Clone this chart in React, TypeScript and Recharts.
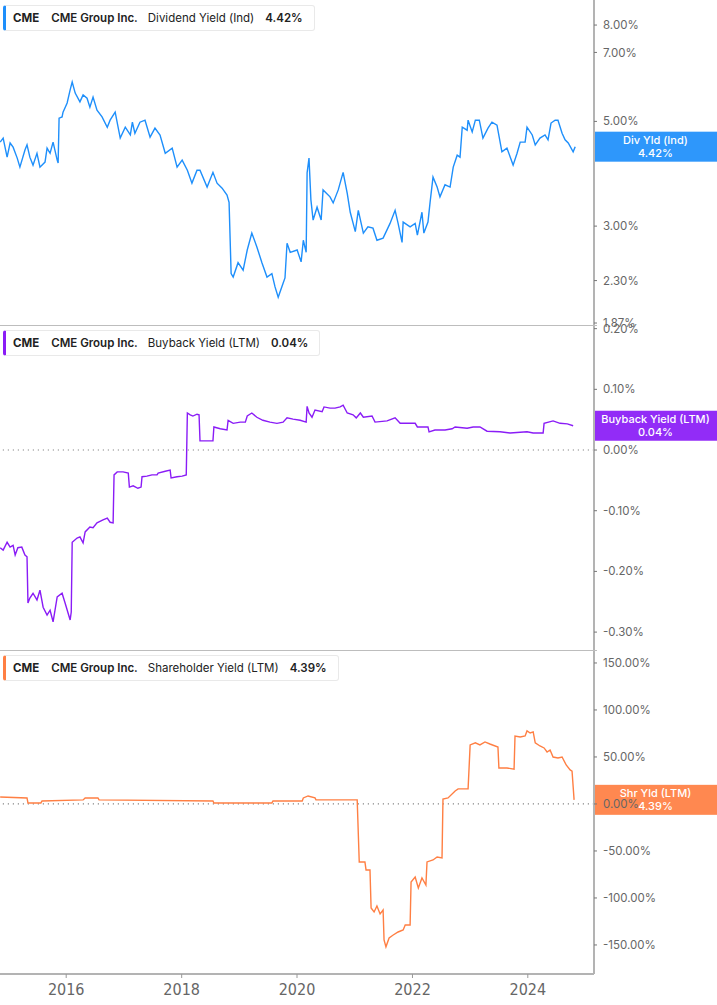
import React from 'react';
import { LineChart, Line, XAxis, YAxis, ReferenceLine } from 'recharts';

// ---------- layout constants ----------
const W = 717;
const PLOT_W = 594;
const AXIS_W = W - PLOT_W;

// ---------- x axis ----------
const xDomainDates = ['2014-11-08', '2025-02-23'];
const xTickDates = ['2016-01-01', '2018-01-01', '2020-01-01', '2022-01-01', '2024-01-01'];

// ---------- Dividend Yield (Ind), % ----------
const divDates = [
  '2014-11-09','2014-11-28','2014-12-23','2015-01-11','2015-01-30','2015-02-25','2015-03-14','2015-04-15','2015-04-28','2015-05-16',
  '2015-06-05','2015-06-30','2015-07-19','2015-08-20','2015-09-02','2015-09-21','2015-10-10','2015-11-05','2015-11-11','2015-11-17',
  '2015-12-06','2015-12-12','2016-01-07','2016-01-26','2016-02-08','2016-02-27','2016-03-28','2016-04-17','2016-05-12','2016-05-30',
  '2016-06-19','2016-07-14','2016-08-15','2016-09-17','2016-10-05','2016-11-06','2016-12-08','2017-01-09','2017-02-10','2017-02-23',
  '2017-03-11','2017-04-12','2017-05-14','2017-06-15','2017-07-16','2017-08-17','2017-09-19','2017-11-02','2017-12-03','2018-01-04',
  '2018-02-06','2018-03-07','2018-04-08','2018-04-27','2018-06-11','2018-07-18','2018-08-13','2018-09-14','2018-10-15','2018-10-28',
  '2018-11-10','2018-11-23','2018-12-24','2019-01-25','2019-02-20','2019-03-21','2019-04-22','2019-05-24','2019-06-25','2019-07-26',
  '2019-08-15','2019-09-04','2019-10-05','2019-10-17','2019-10-30','2019-11-19','2020-01-02','2020-01-27','2020-02-10','2020-02-28',
  '2020-03-05','2020-03-17','2020-03-29','2020-04-12','2020-05-07','2020-06-02','2020-06-14','2020-07-28','2020-08-17','2020-09-18',
  '2020-10-19','2020-11-14','2020-12-03','2021-01-04','2021-01-23','2021-02-24','2021-03-25','2021-04-26','2021-05-21','2021-06-29',
  '2021-08-12','2021-09-13','2021-10-02','2021-10-27','2021-11-03','2021-12-17','2022-01-18','2022-02-01','2022-03-02','2022-03-14',
  '2022-04-09','2022-04-22','2022-05-11','2022-06-06','2022-06-24','2022-07-26','2022-08-27','2022-09-16','2022-10-11','2022-10-29',
  '2022-11-12','2022-12-13','2022-12-19','2023-01-14','2023-02-03','2023-02-28','2023-03-23','2023-04-24','2023-05-19','2023-06-20',
  '2023-07-21','2023-08-22','2023-09-30','2023-10-25','2023-11-14','2023-12-15','2023-12-27','2024-01-29','2024-02-17','2024-03-18',
  '2024-04-19','2024-05-08','2024-05-27','2024-06-22','2024-07-10','2024-08-05','2024-08-24','2024-09-13','2024-10-14','2024-10-27',
];
const divValues = [
  4.52,4.61,4.20,4.50,4.41,4.18,4.00,4.35,4.46,4.20,
  4.04,4.28,4.00,4.10,4.39,4.28,4.52,4.14,4.08,5.08,
  5.11,5.23,5.47,5.83,6.06,5.74,5.50,5.69,5.60,5.36,
  5.63,5.28,5.11,4.86,5.03,5.23,4.61,4.86,4.68,4.98,
  4.72,4.98,5.03,4.63,4.84,4.68,4.28,4.39,4.00,4.14,
  3.94,3.70,3.94,3.94,3.63,3.90,3.70,3.61,3.49,3.37,
  2.38,2.34,2.51,2.42,2.67,2.90,2.71,2.51,2.34,2.38,
  2.23,2.12,2.27,2.33,2.76,2.64,2.67,2.52,2.80,2.64,
  3.89,4.18,3.41,3.09,3.29,3.09,3.58,3.46,3.36,3.58,
  3.90,3.52,3.21,2.92,3.24,2.90,2.99,2.97,2.80,2.83,
  3.04,3.24,3.04,2.77,3.06,2.99,3.04,2.87,3.21,2.90,
  3.06,3.36,3.81,3.63,3.46,3.67,3.63,4.00,4.24,4.20,
  4.86,4.79,5.03,4.75,5.03,5.03,4.61,4.84,4.98,4.91,
  4.31,4.39,4.04,4.28,4.52,4.52,4.86,4.68,4.46,4.61,
  4.68,4.57,4.96,5.03,5.03,4.72,4.57,4.50,4.31,4.42,
];
const divTicks = [1.87, 2.3, 3, 5, 7, 8];

// ---------- Buyback Yield (LTM), % ----------
const bbDates = [
  '2014-11-09','2014-11-28','2014-12-23','2015-01-11','2015-01-30','2015-02-12','2015-03-01','2015-03-26','2015-04-15','2015-04-28',
  '2015-05-04','2015-05-16','2015-06-05','2015-06-30','2015-07-19','2015-08-08','2015-09-02','2015-09-21','2015-10-10','2015-11-05',
  '2015-12-06','2015-12-25','2016-01-26','2016-02-02','2016-02-08','2016-03-10','2016-03-28','2016-04-17','2016-04-30','2016-05-30',
  '2016-06-19','2016-07-14','2016-08-21','2016-09-17','2016-10-05','2016-10-24','2016-10-30','2016-11-19','2016-12-26','2017-01-28',
  '2017-02-04','2017-02-28','2017-03-30','2017-04-19','2017-04-25','2017-05-26','2017-06-27','2017-07-29','2017-08-05','2017-09-19',
  '2017-10-20','2017-10-26','2017-12-03','2018-01-04','2018-01-30','2018-02-06','2018-02-24','2018-03-13','2018-04-08','2018-04-21',
  '2018-04-27','2018-06-11','2018-07-18','2018-07-24','2018-09-02','2018-10-15','2018-10-22','2018-11-23','2019-01-07','2019-02-08',
  '2019-02-20','2019-03-21','2019-04-22','2019-05-30','2019-07-14','2019-08-27','2019-10-05','2019-10-30','2019-12-07','2020-01-21',
  '2020-02-28','2020-03-05','2020-03-17','2020-04-05','2020-04-24','2020-06-08','2020-06-20','2020-07-28','2020-08-29','2020-09-30',
  '2020-10-19','2020-11-14','2020-12-21','2021-01-10','2021-02-05','2021-02-24','2021-04-20','2021-05-09','2021-07-24','2021-09-13',
  '2021-10-15','2022-01-18','2022-02-01','2022-04-09','2022-04-16','2022-05-23','2022-07-26','2022-09-09','2022-09-28','2022-12-13',
  '2023-01-20','2023-03-04','2023-04-18','2023-07-09','2023-09-11','2023-12-27','2024-02-04','2024-04-07','2024-04-13','2024-06-09',
  '2024-07-23','2024-09-07','2024-10-14',
];
const bbValues = [
  -0.161,-0.165,-0.152,-0.160,-0.157,-0.173,-0.161,-0.160,-0.173,-0.176,
  -0.252,-0.244,-0.236,-0.247,-0.231,-0.259,-0.272,-0.264,-0.283,-0.242,
  -0.236,-0.252,-0.280,-0.267,-0.152,-0.145,-0.143,-0.153,-0.135,-0.127,
  -0.128,-0.120,-0.115,-0.112,-0.119,-0.120,-0.041,-0.036,-0.036,-0.038,
  -0.061,-0.059,-0.063,-0.061,-0.044,-0.043,-0.041,-0.041,-0.038,-0.035,
  -0.033,-0.046,-0.044,-0.043,-0.041,0.061,0.058,0.056,0.059,0.058,
  0.015,0.015,0.015,0.038,0.035,0.033,0.049,0.044,0.046,0.046,
  0.056,0.061,0.054,0.049,0.046,0.044,0.046,0.053,0.051,0.049,
  0.046,0.072,0.061,0.054,0.066,0.063,0.071,0.069,0.069,0.071,
  0.074,0.061,0.058,0.053,0.061,0.054,0.056,0.046,0.048,0.053,
  0.044,0.044,0.038,0.038,0.030,0.033,0.033,0.035,0.038,0.036,
  0.038,0.038,0.031,0.030,0.028,0.030,0.028,0.028,0.044,0.048,
  0.044,0.043,0.040,
];
const bbTicks = [-0.3, -0.2, -0.1, 0, 0.1, 0.2];

// ---------- Shareholder Yield (LTM), % ----------
const shDates = [
  '2014-11-09','2015-04-28','2015-05-04','2015-07-25','2015-08-01','2016-04-17','2016-04-30','2016-07-20','2016-07-27','2018-07-18',
  '2018-07-24','2019-07-26','2019-08-02','2020-02-03','2020-02-10','2020-03-11','2020-04-24','2020-04-30','2021-01-16','2021-01-29',
  '2021-03-06','2021-03-13','2021-04-07','2021-04-14','2021-05-03','2021-05-21','2021-06-10','2021-06-29','2021-07-05','2021-07-17',
  '2021-08-06','2021-09-01','2021-10-02','2021-11-03','2021-11-16','2021-12-17','2021-12-23','2022-01-18','2022-02-07','2022-03-02',
  '2022-03-27','2022-04-03','2022-05-11','2022-06-06','2022-07-07','2022-07-13','2022-08-14','2022-09-28','2022-10-17','2022-12-19',
  '2023-01-01','2023-02-03','2023-03-04','2023-04-05','2023-05-06','2023-06-26','2023-07-02','2023-08-22','2023-10-06','2023-10-12',
  '2023-11-14','2023-12-15','2023-12-27','2024-01-16','2024-02-04','2024-02-17','2024-03-18','2024-04-13','2024-05-02','2024-05-21',
  '2024-06-09','2024-07-10','2024-08-05','2024-08-31','2024-09-25','2024-10-07','2024-10-20',
];
const shValues = [
  7.4,6.4,1.1,1.1,3.2,4.3,6.4,6.4,4.3,3.2,
  1.1,1.1,3.2,3.2,6.4,8.5,6.4,4.3,4.3,-61.7,
  -61.7,-70.2,-70.2,-110.6,-114.9,-108.5,-117.0,-112.8,-144.7,-152.0,
  -142.6,-139.4,-136.2,-134.0,-128.7,-128.7,-83.0,-77.7,-89.4,-78.7,
  -86.2,-61.7,-59.6,-56.4,-57.4,5.3,6.4,13.8,16.0,16.0,
  62.8,65.0,62.8,66.0,63.8,60.6,38.3,38.3,37.0,72.3,
  71.3,72.3,77.7,75.5,76.6,65.0,61.7,59.6,55.3,57.4,
  49.9,48.9,50.0,41.5,36.2,35.0,4.39,
];
const shTicks = [-150, -100, -50, 0, 50, 100, 150];

// ---------- panel texts ----------
const ticker = 'CME';
const company = 'CME Group Inc.';
const divLegend = { metric: 'Dividend Yield (Ind)', value: '4.42%', badge: 'Div Yld (Ind)', last: 4.42, color: '#1e8ffb' };
const bbLegend = { metric: 'Buyback Yield (LTM)', value: '0.04%', badge: 'Buyback Yield (LTM)', last: 0.04, color: '#8a1cf6' };
const shLegend = { metric: 'Shareholder Yield (LTM)', value: '4.39%', badge: 'Shr Yld (LTM)', last: 4.39, color: '#ff7f43' };

const toRows = (dates: string[], values: number[]) =>
  dates.map((d, i) => ({ t: Date.parse(d), v: values[i] }));

const divData = toRows(divDates, divValues);
const bbData = toRows(bbDates, bbValues);
const shData = toRows(shDates, shValues);
const xDomain = xDomainDates.map((d) => Date.parse(d));
const xTicks = xTickDates.map((d) => Date.parse(d));

const FONT = 'Inter, "Noto Sans", sans-serif';
const COND = '"Liberation Sans Narrow", "DejaVu Sans Condensed", "Roboto Condensed", Roboto, sans-serif';

const pct = (v: number) => `${v.toFixed(2)}%`;

const makeBadge = (title: string, value: string, color: string) => (props: any) => {
  const vb = props.viewBox || {};
  const x = (vb.x ?? 0) + (vb.width ?? 0);
  const y = vb.y ?? 0;
  return (
    <g>
      <rect x={x} y={y - 15} width={AXIS_W} height={30} fill={color} fillOpacity={0.93} />
      <text x={x + AXIS_W / 2} y={y - 3} textAnchor="middle" fill="#fff" fontSize={11} fontWeight={500} fontFamily={FONT}>
        {title}
      </text>
      <text x={x + AXIS_W / 2} y={y + 10} textAnchor="middle" fill="#fff" fontSize={11} fontWeight={500} fontFamily={FONT}>
        {value}
      </text>
    </g>
  );
};

const LegendBox = ({ info }: { info: typeof divLegend }) => (
  <div
    style={{
      position: 'absolute',
      left: 3,
      top: 5,
      height: 26,
      boxSizing: 'border-box',
      display: 'flex',
      alignItems: 'center',
      background: '#fff',
      border: '1px solid #e9e9e9',
      borderLeft: `3px solid ${info.color}`,
      borderRadius: 3,
      paddingLeft: 7,
      paddingRight: 11,
      fontFamily: FONT,
      fontSize: 11.5,
      color: '#222',
      whiteSpace: 'nowrap',
      zIndex: 2,
    }}
  >
    <span style={{ fontWeight: 700, marginRight: 12 }}>{ticker}</span>
    <span style={{ fontWeight: 600, marginRight: 10 }}>{company}</span>
    <span style={{ fontWeight: 400, marginRight: 11 }}>{info.metric}</span>
    <span style={{ fontWeight: 600 }}>{info.value}</span>
  </div>
);

type PanelProps = {
  top: number;
  height: number;
  data: { t: number; v: number }[];
  info: typeof divLegend;
  yDomain: [number, number];
  yTicks: number[];
  log?: boolean;
  zeroLine?: boolean;
  showX?: boolean;
  separator?: boolean;
};

const Panel = ({ top, height, data, info, yDomain, yTicks, log, zeroLine, showX, separator }: PanelProps) => (
  <div style={{ position: 'absolute', left: 0, top, width: W, height }}>
    <LineChart width={W} height={height} data={data} margin={{ top: 0, right: 0, bottom: 0, left: 0 }}>
      <XAxis
        dataKey="t"
        type="number"
        domain={xDomain}
        allowDataOverflow
        ticks={xTicks}
        interval={0}
        hide={!showX}
        height={showX ? 31 : 0}
        tickFormatter={(t: number) => String(new Date(t).getUTCFullYear())}
        axisLine={{ stroke: '#b3b3b3', strokeWidth: 2 }}
        tickLine={{ stroke: '#999' }}
        tickSize={4}
        tickMargin={6}
        tick={{ fill: '#666', fontSize: 16, fontFamily: COND }}
      />
      <YAxis
        orientation="right"
        width={AXIS_W}
        type="number"
        scale={log ? 'log' : 'auto'}
        domain={yDomain}
        allowDataOverflow
        ticks={yTicks}
        interval={0}
        tickFormatter={pct}
        axisLine={{ stroke: '#b3b3b3', strokeWidth: 2 }}
        tickLine={{ stroke: '#777' }}
        tickSize={3}
        tickMargin={6}
        tick={{ fill: '#666', fontSize: 11.5, fontFamily: FONT, textAnchor: 'start' }}
      />
      {zeroLine && (
        <ReferenceLine y={0} stroke="#888" strokeWidth={1.2} strokeDasharray="1.2 3.8" ifOverflow="visible" />
      )}
      <Line
        dataKey="v"
        type="linear"
        stroke={info.color}
        strokeWidth={1.4}
        dot={false}
        activeDot={false}
        isAnimationActive={false}
      />
      <ReferenceLine
        y={info.last}
        stroke="none"
        ifOverflow="visible"
        label={makeBadge(info.badge, info.value, info.color)}
      />
    </LineChart>
    {separator && (
      <div style={{ position: 'absolute', left: 0, top: 0, width: PLOT_W + 3, height: 1, background: '#bdbdbd' }} />
    )}
    <LegendBox info={info} />
  </div>
);

export default function App() {
  return (
    <div style={{ position: 'absolute', left: 0, top: 0, width: W, height: 1005, background: '#fff', overflow: 'hidden' }}>
      <style>{`.recharts-surface{overflow:visible}`}</style>
      <Panel top={0} height={325} data={divData} info={divLegend} yDomain={[1.852, 9.04]} yTicks={divTicks} log />
      <Panel top={325} height={325} data={bbData} info={bbLegend} yDomain={[-0.3295, 0.206]} yTicks={bbTicks} zeroLine separator />
      <Panel top={650} height={355} data={shData} info={shLegend} yDomain={[-180.9, 163.8]} yTicks={shTicks} zeroLine showX separator />
    </div>
  );
}
